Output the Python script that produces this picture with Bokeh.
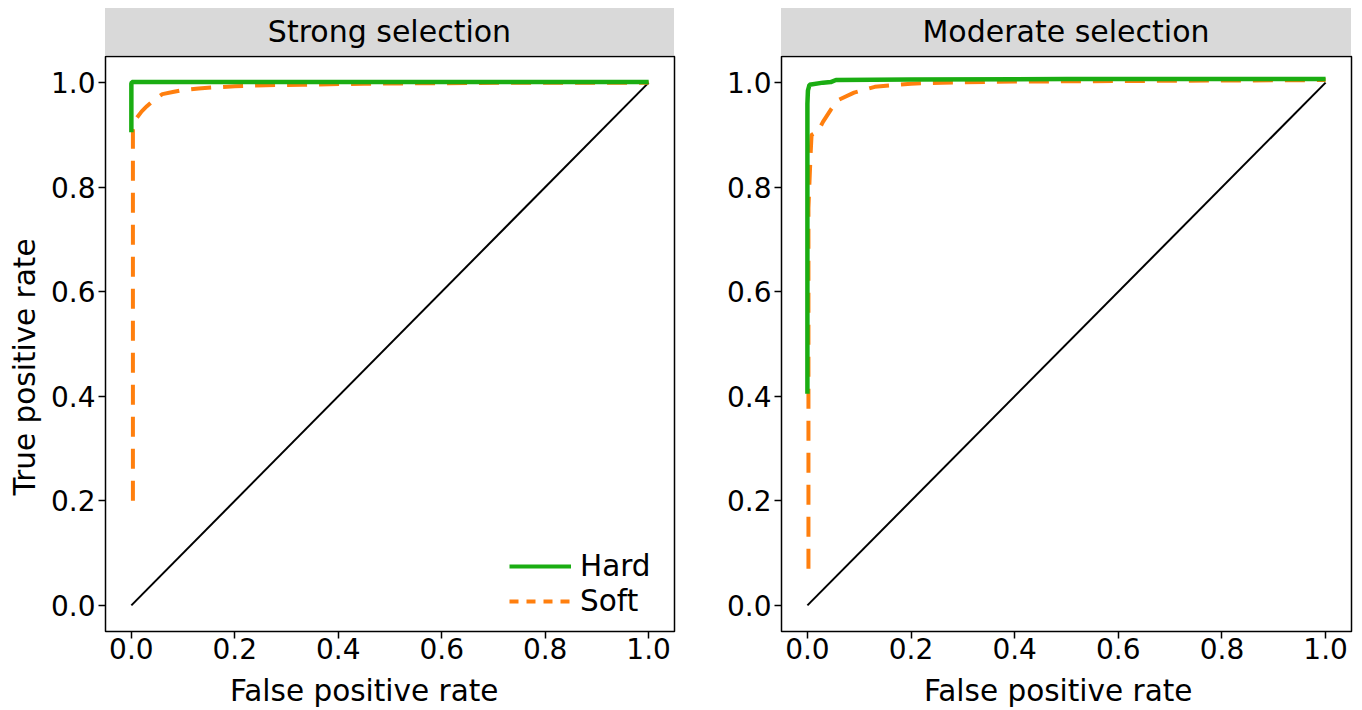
import numpy as np
from bokeh.plotting import figure
from bokeh.models import (Div, FixedTicker, PrintfTickFormatter, Legend, LegendItem,
                          ColumnDataSource, Range1d, Title)
from bokeh.layouts import row, column
from bokeh.embed import file_html
from bokeh.resources import INLINE

panel_titles = ["Strong selection", "Moderate selection"]
series_names = ["Hard", "Soft"]
x_label_text = "False positive rate"
y_label_text = "True positive rate"
tick_values = [0.0, 0.2, 0.4, 0.6, 0.8, 1.0]
diag_x = [0.0, 1.0]
diag_y = [0.0, 1.0]

# Strong selection
strong_hard_fpr = [0.0, 0.0, 0.001, 1.0]
strong_hard_tpr = [0.905, 0.998, 1.001, 1.001]
strong_soft_fpr = [0.003, 0.003, 0.01, 0.02, 0.03, 0.045, 0.06, 0.08, 0.1, 0.13,
                   0.16, 0.2, 0.26, 0.33, 0.45, 0.6, 0.8, 1.0]
strong_soft_tpr = [0.2, 0.91, 0.932, 0.945, 0.955, 0.968, 0.978, 0.982, 0.986, 0.989,
                   0.991, 0.993, 0.995, 0.996, 0.998, 0.999, 1.0, 1.0]

# Moderate selection
moderate_hard_fpr = [0.0, 0.0, 0.001, 0.004, 0.03, 0.045, 0.055, 0.2, 0.5, 1.0]
moderate_hard_tpr = [0.405, 0.96, 0.985, 0.996, 1.0, 1.001, 1.005, 1.006, 1.007, 1.007]
moderate_soft_fpr = [0.002, 0.002, 0.006, 0.008, 0.02, 0.03, 0.045, 0.06, 0.09, 0.13,
                     0.2, 0.26, 0.4, 0.6, 0.8, 1.0]
moderate_soft_tpr = [0.07, 0.76, 0.86, 0.9, 0.906, 0.925, 0.948, 0.967, 0.981, 0.992,
                     0.998, 1.0, 1.002, 1.003, 1.004, 1.005]

GREEN = "#1aad12"
ORANGE = "#ff7f0e"
FONT = "DejaVu Sans"
LABEL_SIZE = "29.5px"


def single_legend(label, renderer, loc):
    lg = Legend(items=[LegendItem(label=label, renderers=[renderer])], location=loc)
    lg.border_line_color = None
    lg.background_fill_alpha = 0
    lg.label_text_font = FONT
    lg.label_text_font_size = LABEL_SIZE
    lg.label_text_color = "black"
    lg.glyph_width = 62
    lg.glyph_height = 30
    lg.label_height = 30
    lg.label_standoff = 9
    lg.spacing = 0
    lg.padding = 0
    lg.margin = 0
    return lg


def make_panel(title, hard_fpr, hard_tpr, soft_fpr, soft_tpr, left_panel,
               width, border_right, xlabel_left):
    p = figure(width=width, height=619, output_backend="svg", toolbar_location=None,
               x_range=Range1d(-0.05, 1.05), y_range=Range1d(-0.05, 1.05),
               min_border_left=105, min_border_right=border_right,
               min_border_top=1, min_border_bottom=43)
    p.background_fill_color = "white"
    p.border_fill_color = "white"
    p.outline_line_color = "black"
    p.outline_line_width = 1.5
    p.xgrid.visible = False
    p.ygrid.visible = False

    for ax in (p.xaxis[0], p.yaxis[0]):
        ax.ticker = FixedTicker(ticks=tick_values)
        ax.formatter = PrintfTickFormatter(format="%.1f")
        ax.major_label_text_font = FONT
        ax.major_label_text_font_size = "28px"
        ax.major_label_text_color = "black"
        ax.axis_line_color = None
        ax.major_tick_line_color = "black"
        ax.major_tick_line_width = 1.5
        ax.major_tick_out = 7
        ax.major_tick_in = 0
        ax.minor_tick_line_color = None
        ax.major_label_standoff = 3
    p.xaxis.major_label_standoff = -1

    if left_panel:
        p.add_layout(Title(text=y_label_text, align="left", offset=136, standoff=11,
                           text_font=FONT, text_font_size=LABEL_SIZE,
                           text_font_style="normal", text_color="black"), "left")

    p.line(diag_x, diag_y, line_color="black", line_width=2)
    p.line(soft_fpr, soft_tpr, line_color=ORANGE, line_width=4, line_dash="20 12")
    p.line(hard_fpr, hard_tpr, line_color=GREEN, line_width=4.5)

    if left_panel:
        dummy = ColumnDataSource(data=dict(x=np.array([np.nan]), y=np.array([np.nan])))
        lh = p.line("x", "y", source=dummy, line_color=GREEN, line_width=4)
        ls = p.line("x", "y", source=dummy, line_color=ORANGE, line_width=4,
                    line_dash="9 8")
        p.add_layout(single_legend(series_names[0], lh, (404, 48)))
        p.add_layout(single_legend(series_names[1], ls, (404, 13)))

    strip = Div(text=title, width=width - 105 - border_right, height=47,
                margin=(8, border_right, 0, 105),
                styles={"background-color": "#d9d9d9", "text-align": "center",
                        "font-family": FONT, "font-size": "30px",
                        "line-height": "47px", "color": "black"})
    xlabel = Div(text=x_label_text, width=400, height=34,
                 margin=(0, 0, 0, xlabel_left),
                 styles={"text-align": "left", "font-family": FONT,
                         "font-size": LABEL_SIZE, "line-height": "34px",
                         "color": "black", "white-space": "nowrap"})
    return column(strip, p, xlabel, spacing=0)


left = make_panel(panel_titles[0], strong_hard_fpr, strong_hard_tpr,
                  strong_soft_fpr, strong_soft_tpr, True, 676, 2, 230)
right = make_panel(panel_titles[1], moderate_hard_fpr, moderate_hard_tpr,
                   moderate_soft_fpr, moderate_soft_tpr, False, 686, 11, 248)
layout = row(left, right, spacing=0)

open("out.html", "w").write(file_html(layout, INLINE))
